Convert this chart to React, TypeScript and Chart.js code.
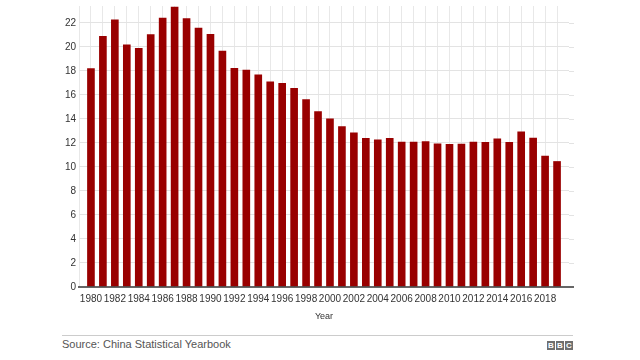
import React, { useEffect, useRef } from "react";
import { Chart, registerables } from "chart.js";

Chart.register(...registerables);

const years: string[] = [
  "1980","1981","1982","1983","1984","1985","1986","1987","1988","1989",
  "1990","1991","1992","1993","1994","1995","1996","1997","1998","1999",
  "2000","2001","2002","2003","2004","2005","2006","2007","2008","2009",
  "2010","2011","2012","2013","2014","2015","2016","2017","2018","2019",
];
const birthRate: number[] = [
  18.21, 20.91, 22.28, 20.19, 19.9, 21.04, 22.43, 23.33, 22.37, 21.58,
  21.06, 19.68, 18.24, 18.09, 17.7, 17.12, 16.98, 16.57, 15.64, 14.64,
  14.03, 13.38, 12.86, 12.41, 12.29, 12.4, 12.09, 12.1, 12.14, 11.95,
  11.9, 11.93, 12.1, 12.08, 12.37, 12.07, 12.95, 12.43, 10.94, 10.48,
];
const yTicks: number[] = [0, 2, 4, 6, 8, 10, 12, 14, 16, 18, 20, 22];
const axisTitle = "Year";
const sourceText = "Source: China Statistical Yearbook";

const FONT = "'Liberation Sans', Arial, Helvetica, sans-serif";
const EXT = 5;

const gridExtension = {
  id: "gridExtension",
  beforeDatasetsDraw(chart: any) {
    const { ctx, chartArea, scales } = chart;
    const y = scales.y;
    ctx.save();
    y.ticks.forEach((t: any) => {
      const py = Math.round(y.getPixelForValue(t.value)) + 0.5;
      if (t.value === 0) return;
      ctx.strokeStyle = "#e3e3e3";
      ctx.lineWidth = 1;
      ctx.beginPath();
      ctx.moveTo(chartArea.right, py);
      ctx.lineTo(chartArea.right + EXT, py);
      ctx.stroke();
    });
    ctx.restore();
  },
  afterDraw(chart: any) {
    const { ctx, chartArea, scales } = chart;
    const y = scales.y;
    const py = y.getPixelForValue(0);
    ctx.save();
    ctx.strokeStyle = "#333333";
    ctx.lineWidth = 1.5;
    ctx.beginPath();
    ctx.moveTo(chartArea.left - 1, py);
    ctx.lineTo(chartArea.right + EXT, py);
    ctx.stroke();
    ctx.restore();
  },
};

export default function App() {
  const ref = useRef<HTMLCanvasElement | null>(null);

  useEffect(() => {
    if (!ref.current) return;
    const labels = ["", ...years, ""];
    const data = [null, ...birthRate, null];
    const chart = new Chart(ref.current, {
      type: "bar",
      data: {
        labels,
        datasets: [
          {
            data,
            backgroundColor: "#990000",
            barPercentage: 0.64,
            categoryPercentage: 1,
          },
        ],
      },
      plugins: [gridExtension],
      options: {
        animation: false,
        responsive: false,
        maintainAspectRatio: false,
        layout: { padding: { left: 0, right: 640 - 569, top: 0, bottom: 0 } },
        plugins: { legend: { display: false }, tooltip: { enabled: false } },
        scales: {
          x: {
            offset: false,
            grid: {
              display: true,
              drawTicks: false,
              offset: false,
              color: (ctx: any) =>
                ctx.index === labels.length - 1 ? "rgba(0,0,0,0)" : "#e8e8e8",
              lineWidth: 1,
            },
            border: { display: false },
            ticks: {
              autoSkip: false,
              maxRotation: 0,
              minRotation: 0,
              padding: 6,
              color: "#333333",
              font: { family: FONT, size: 10 },
              callback: (_v: any, i: number) =>
                i % 2 === 1 && labels[i] ? labels[i] : "",
            },
            title: {
              display: true,
              text: axisTitle,
              color: "#333333",
              font: { family: FONT, size: 9 },
              padding: { top: 0, bottom: 3 },
            },
            afterFit: (s: any) => {
              s.height = 38;
            },
          },
          y: {
            min: 0,
            max: 23.4,
            grid: {
              display: true,
              drawTicks: false,
              color: (ctx: any) =>
                ctx.tick && ctx.tick.value === 0 ? "rgba(0,0,0,0)" : "#e3e3e3",
              lineWidth: 1,
            },
            border: { display: false },
            afterBuildTicks: (s: any) => {
              s.ticks = yTicks.map((v) => ({ value: v }));
            },
            ticks: {
              padding: 3,
              color: "#333333",
              font: { family: FONT, size: 10 },
            },
            afterFit: (s: any) => {
              s.width = 79;
            },
          },
        },
      },
    });
    return () => chart.destroy();
  }, []);

  const box: React.CSSProperties = {
    width: 8,
    height: 9,
    background: "#6f6f6f",
    color: "#ffffff",
    fontFamily: FONT,
    fontWeight: 700,
    fontSize: 8,
    lineHeight: "9px",
    textAlign: "center",
  };

  return (
    <div
      style={{
        position: "absolute",
        left: 0,
        top: 0,
        width: 640,
        height: 360,
        background: "#ffffff",
        overflow: "hidden",
      }}
    >
      <canvas
        ref={ref}
        width={640}
        height={328}
        style={{ position: "absolute", left: 0, top: -3, width: 640, height: 328 }}
      />
      <div
        style={{
          position: "absolute",
          left: 62,
          top: 335,
          width: 511,
          height: 1,
          background: "#cccccc",
        }}
      />
      <div
        style={{
          position: "absolute",
          left: 62,
          top: 337,
          fontFamily: FONT,
          fontSize: 11,
          color: "#555555",
          lineHeight: "14px",
        }}
      >
        {sourceText}
      </div>
      <div
        style={{
          position: "absolute",
          left: 547,
          top: 341,
          display: "flex",
          gap: 1,
        }}
      >
        <div style={box}>B</div>
        <div style={box}>B</div>
        <div style={box}>C</div>
      </div>
    </div>
  );
}
